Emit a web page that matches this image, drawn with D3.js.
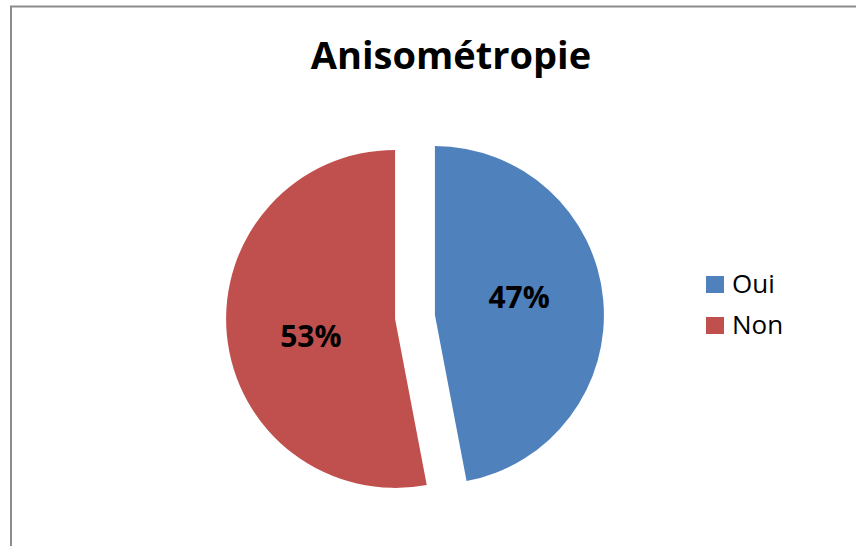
<!DOCTYPE html>
<html>
<head>
<meta charset="utf-8">
<script src="https://cdn.jsdelivr.net/npm/d3@7"></script>
<style>
  body { margin: 0; background: #fff; }
  svg { display: block; }
</style>
</head>
<body>
<svg id="pieChart" width="856" height="546"></svg>
<script>
const categories = ["Oui", "Non"];
const values = [47, 53];
const colors = ["#4F81BD", "#C0504D"];
const chartTitle = "Anisométropie";

const svg = d3.select("#pieChart");
const font = "'Open Sans', Lato, sans-serif";

// cadre
svg.append("rect")
    .attr("x", 11)
    .attr("y", 6.5)
    .attr("width", 900)
    .attr("height", 600)
    .attr("fill", "#fff")
    .attr("stroke", "#8c8c8c")
    .attr("stroke-width", 2);

svg.append("text")
    .attr("x", 451)
    .attr("y", 69)
    .attr("text-anchor", "middle")
    .attr("font-family", font)
    .attr("font-weight", "bold")
    .attr("font-size", 38)
    .attr("fill", "#000")
    .text(chartTitle);

const radius = 169;
const explode = 20;
const labelRadius = 86;
const labelTurn = -0.11; // léger décalage des étiquettes comme dans Excel
const pie_g = svg.append("g").attr("transform", "translate(415, 317)");

const pie = d3.pie().sort(null).value((d) => d.value);
const arc = d3.arc().innerRadius(0).outerRadius(radius);

const pieData = pie(categories.map((c, i) => ({ name: c, value: values[i] })));

const mid = (d) => (d.startAngle + d.endAngle) / 2;

const slices = pie_g.selectAll("g.slice")
    .data(pieData)
    .enter()
    .append("g")
    .attr("class", "slice")
    .attr("transform", (d) => `translate(${explode * Math.sin(mid(d))}, ${-explode * Math.cos(mid(d))})`);

slices.append("path")
    .attr("d", arc)
    .attr("fill", (d, i) => colors[i]);

slices.append("text")
    .attr("transform", (d) => {
        const a = mid(d) + labelTurn;
        return `translate(${labelRadius * Math.sin(a)}, ${-labelRadius * Math.cos(a)})`;
    })
    .attr("text-anchor", "middle")
    .attr("dy", "0.35em")
    .attr("font-family", font)
    .attr("font-weight", "bold")
    .attr("font-size", 30)
    .attr("fill", "#000")
    .text((d) => Math.round(d.value) + "%");

// légende
const legend = svg.append("g").attr("transform", "translate(706, 276)");
const items = legend.selectAll("g")
    .data(categories)
    .enter()
    .append("g")
    .attr("transform", (d, i) => `translate(0, ${i * 41})`);

items.append("rect")
    .attr("width", 18)
    .attr("height", 17)
    .attr("fill", (d, i) => colors[i]);

items.append("text")
    .attr("x", 26)
    .attr("y", 17)
    .attr("font-family", font)
    .attr("font-size", 26)
    .attr("fill", "#000")
    .text((d) => d);
</script>
</body>
</html>
